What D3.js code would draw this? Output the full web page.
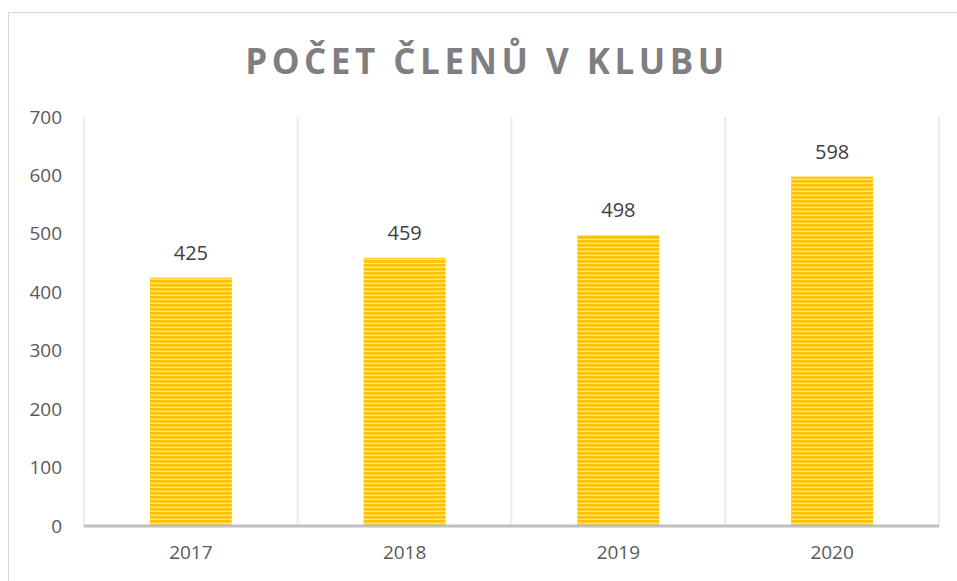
<!DOCTYPE html>
<html>
<head>
<meta charset="utf-8">
<title>Počet členů v klubu</title>
<style>
body { margin: 0; background: #fff; }
svg { display: block; }
</style>
</head>
<body>
<script src="https://cdn.jsdelivr.net/npm/d3@7/dist/d3.min.js"></script>
<script>

var years = ["2017", "2018", "2019", "2020"];
var members = [425, 459, 498, 598];
var yTicks = [0, 100, 200, 300, 400, 500, 600, 700];

var w = 957, h = 581;
var plotLeft = 84, plotRight = 939, plotTop = 117, plotBottom = 526;

var svg = d3.select("body").append("svg")
    .attr("width", w)
    .attr("height", h);

// striped fill like the original
var pat = svg.append("defs").append("pattern")
    .attr("id", "stripes")
    .attr("patternUnits", "userSpaceOnUse")
    .attr("width", 8).attr("height", 4);
pat.append("rect").attr("width", 8).attr("height", 4).attr("fill", "#ffe38a");
pat.append("rect").attr("width", 8).attr("height", 2.6).attr("fill", "#ffc000");

// chart frame
svg.append("rect")
    .attr("x", 8.5).attr("y", 12.5)
    .attr("width", 980).attr("height", 600)
    .attr("fill", "none")
    .attr("stroke", "#d9d9d9");

svg.append("text")
    .attr("x", 487).attr("y", 74)
    .attr("text-anchor", "middle")
    .attr("font-family", "Open Sans")
    .attr("font-weight", "bold")
    .attr("font-size", "35px")
    .attr("letter-spacing", "4.5px")
    .attr("fill", "#7f7f7f")
    .text("POČET ČLENŮ V KLUBU");

var x = d3.scaleBand().domain(years).range([plotLeft, plotRight]).paddingInner(0).paddingOuter(0);
var y = d3.scaleLinear().domain([0, 700]).range([plotBottom, plotTop]);

// vertical gridlines at category boundaries
var edges = years.map(function(d) { return x(d); }).concat([plotRight]);
svg.selectAll("line.grid")
    .data(edges)
    .enter()
    .append("line")
    .attr("class", "grid")
    .attr("x1", function(d) { return d; })
    .attr("x2", function(d) { return d; })
    .attr("y1", plotTop)
    .attr("y2", plotBottom)
    .attr("stroke", "#ececec")
    .attr("stroke-width", 2);

var barW = 82;
svg.selectAll("rect.bar")
    .data(members)
    .enter()
    .append("rect")
    .attr("class", "bar")
    .attr("x", function(d, i) { return x(years[i]) + x.bandwidth() / 2 - barW / 2; })
    .attr("y", function(d) { return y(d); })
    .attr("width", barW)
    .attr("height", function(d) { return plotBottom - y(d); })
    .attr("fill", "url(#stripes)");

svg.selectAll("text.val")
    .data(members)
    .enter()
    .append("text")
    .attr("class", "val")
    .attr("x", function(d, i) { return x(years[i]) + x.bandwidth() / 2; })
    .attr("y", function(d) { return y(d) - 18; })
    .attr("text-anchor", "middle")
    .attr("font-family", "Open Sans")
    .attr("font-size", "20px")
    .attr("fill", "#404040")
    .text(function(d) { return d; });

// y axis labels
var yAxis = d3.axisLeft(y).tickValues(yTicks).tickSize(0).tickPadding(22);
var gy = svg.append("g")
    .attr("transform", "translate(" + plotLeft + ",0)")
    .call(yAxis);
gy.select(".domain").remove();
gy.selectAll("text")
    .attr("font-family", "Open Sans")
    .attr("font-size", "19px")
    .attr("fill", "#595959");

// x axis
var xAxis = d3.axisBottom(x).tickSize(0).tickPadding(20);
var gx = svg.append("g")
    .attr("transform", "translate(0," + plotBottom + ")")
    .call(xAxis);
gx.select(".domain").remove();
gx.selectAll("text")
    .attr("font-family", "Open Sans")
    .attr("font-size", "19px")
    .attr("fill", "#595959");

svg.append("line")
    .attr("x1", plotLeft).attr("x2", plotRight)
    .attr("y1", plotBottom).attr("y2", plotBottom)
    .attr("stroke", "#bfbfbf")
    .attr("stroke-width", 3);

</script>
</body>
</html>
